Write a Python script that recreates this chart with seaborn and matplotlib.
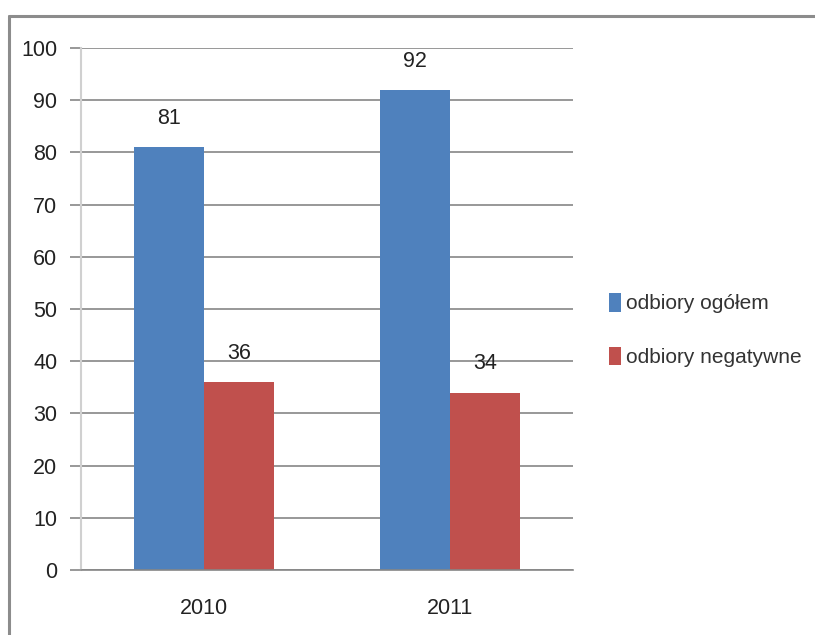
import numpy as np
import pandas as pd
import matplotlib
matplotlib.use("Agg")
import matplotlib.pyplot as plt
import seaborn as sns
from matplotlib.lines import Line2D
from matplotlib.patches import Patch

years = ["2010", "2011"]
series = ["odbiory ogółem", "odbiory negatywne"]
ogolem = [81, 92]
negatywne = [36, 34]
colors = ["#4F81BD", "#C0504D"]

df = pd.DataFrame({
    "rok": years * 2,
    "seria": [series[0]] * 2 + [series[1]] * 2,
    "wartosc": ogolem + negatywne,
})

sns.set_style("white")
plt.rcParams["font.family"] = ["Liberation Sans", "DejaVu Sans"]

fig = plt.figure(figsize=(8.15, 6.35), dpi=100)
ax = fig.add_axes([81 / 815, 1 - 570 / 635, (573 - 81) / 815, (570 - 48) / 635])

sns.barplot(data=df, x="rok", y="wartosc", hue="seria", palette=colors,
            width=0.573, saturation=1, linewidth=0, ax=ax, legend=False)

for cont in ax.containers:
    ax.bar_label(cont, padding=13, fontsize=15.5, color="#222222")

ax.set_ylim(0, 100)
ax.set_xlim(-0.5, 1.5)
ax.set_yticks(np.arange(0, 101, 10))
ax.set_xlabel("")
ax.set_ylabel("")
ax.yaxis.grid(True, color="#868686", linewidth=1.2)
ax.set_axisbelow(True)

for s in ["top", "right"]:
    ax.spines[s].set_visible(False)
ax.spines["left"].set_color("#d0d0d0")
ax.spines["left"].set_linewidth(1.5)
ax.spines["bottom"].set_color("#868686")
ax.spines["bottom"].set_linewidth(1.2)

ax.tick_params(axis="y", length=8, width=1.2, color="#868686", labelsize=15.5,
               pad=9, labelcolor="#222222")
ax.set_xticks([-0.5, 0.5, 1.5], minor=True)
ax.tick_params(axis="x", which="major", length=0, labelsize=15.5, pad=20,
               labelcolor="#222222")
ax.tick_params(axis="x", which="minor", length=9, width=1.2, color="#bbbbbb",
               direction="out")
ax.tick_params(axis="both", left=True, bottom=True)
ax.tick_params(axis="x", which="major", bottom=False)

handles = [Patch(facecolor=c, edgecolor="none") for c in colors]
fig.legend(handles, series, loc="center left",
           bbox_to_anchor=(590 / 815, 1 - 330 / 635), frameon=False,
           fontsize=15, handlelength=0.6, handleheight=1.0,
           handletextpad=0.25, labelspacing=1.6, labelcolor="#333333")

# outer frame (left and top border of the chart area)
fig.add_artist(Line2D([9 / 815, 9 / 815], [0, 1 - 16 / 635],
                      transform=fig.transFigure, color="#8c8c8c", linewidth=2.2))
fig.add_artist(Line2D([9 / 815, 1], [1 - 16 / 635, 1 - 16 / 635],
                      transform=fig.transFigure, color="#8c8c8c", linewidth=2.2))

fig.savefig("out.png", dpi=100)
